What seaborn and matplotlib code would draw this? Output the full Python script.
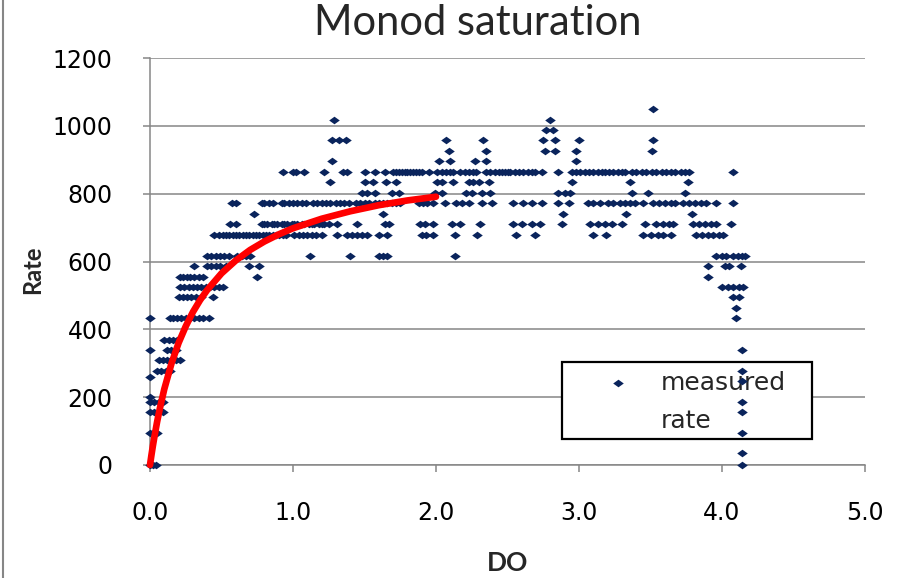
import matplotlib
matplotlib.use("Agg")
import matplotlib.pyplot as plt
from matplotlib.lines import Line2D
from matplotlib.patches import Rectangle
import seaborn as sns
import pandas as pd

# ---------------- data ----------------
# measured rate: DO values observed at each rate level
do_1049 = [3.52]
do_1018 = [1.29, 2.80]
do_988 = [2.77, 2.82]
do_957 = [1.27, 1.32, 1.37, 2.07, 2.33, 2.75, 2.83, 3.00, 3.52]
do_926 = [2.09, 2.35, 2.76, 2.83, 2.98, 3.51]
do_895 = [1.27, 2.02, 2.10, 2.27, 2.35, 2.98]
do_864 = [0.93, 1.00, 1.02, 1.08, 1.22, 1.35, 1.38, 1.50, 1.57, 1.64, 1.70, 1.72,
          1.74, 1.76, 1.78, 1.80, 1.82, 1.84, 1.86, 1.88, 1.90, 1.95, 2.01, 2.04,
          2.07, 2.10, 2.12, 2.17, 2.20, 2.23, 2.26, 2.28, 2.35, 2.38, 2.41, 2.44,
          2.46, 2.48, 2.50, 2.52, 2.55, 2.58, 2.61, 2.64, 2.67, 2.69, 2.74, 2.85,
          2.95, 2.98, 3.01, 3.04, 3.07, 3.10, 3.13, 3.16, 3.18, 3.21, 3.24, 3.27,
          3.30, 3.32, 3.37, 3.40, 3.44, 3.47, 3.51, 3.54, 3.58, 3.61, 3.64, 3.67,
          3.71, 3.74, 3.77, 4.08]
do_833 = [1.26, 1.50, 1.56, 1.65, 1.72, 2.01, 2.04, 2.12, 2.23, 2.26, 2.30, 2.37,
          2.95, 3.36, 3.76]
do_802 = [1.48, 1.52, 1.57, 1.69, 1.74, 1.99, 2.04, 2.21, 2.25, 2.32, 2.38, 2.85,
          2.90, 2.94, 3.37, 3.48, 3.74]
do_772 = [0.57, 0.60, 0.78, 0.80, 0.83, 0.86, 0.92, 0.94, 0.97, 1.00, 1.03, 1.06,
          1.09, 1.14, 1.17, 1.20, 1.23, 1.26, 1.30, 1.33, 1.36, 1.39, 1.44, 1.47,
          1.50, 1.53, 1.57, 1.60, 1.63, 1.66, 1.69, 1.72, 1.75, 1.88, 1.91, 1.94,
          1.98, 2.06, 2.14, 2.18, 2.23, 2.32, 2.39, 2.54, 2.61, 2.67, 2.74, 2.85,
          2.93, 3.06, 3.10, 3.15, 3.20, 3.24, 3.29, 3.32, 3.36, 3.39, 3.45, 3.52,
          3.56, 3.60, 3.64, 3.67, 3.73, 3.77, 3.81, 3.85, 3.89, 3.96, 4.08]
do_741 = [0.73, 1.63, 2.89, 3.33, 3.79]
do_710 = [0.56, 0.60, 0.78, 0.80, 0.82, 0.85, 0.87, 0.89, 0.92, 0.94, 0.96, 0.99,
          1.01, 1.03, 1.06, 1.08, 1.11, 1.13, 1.15, 1.18, 1.20, 1.22, 1.25, 1.31,
          1.45, 1.64, 1.67, 1.89, 1.92, 1.98, 2.11, 2.17, 2.31, 2.54, 2.60, 2.67,
          2.73, 2.88, 3.08, 3.13, 3.18, 3.23, 3.30, 3.46, 3.54, 3.59, 3.63, 3.66,
          3.80, 3.84, 3.88, 3.92, 3.96, 4.06]
do_679 = [0.45, 0.48, 0.51, 0.53, 0.55, 0.58, 0.60, 0.62, 0.65, 0.67, 0.69, 0.72,
          0.74, 0.76, 0.79, 0.81, 0.83, 0.86, 0.88, 0.90, 0.93, 0.95, 1.01, 1.04,
          1.07, 1.10, 1.13, 1.16, 1.20, 1.31, 1.38, 1.41, 1.45, 1.48, 1.52, 1.60,
          1.66, 1.90, 1.93, 1.98, 2.13, 2.29, 2.56, 2.69, 3.10, 3.19, 3.45, 3.50,
          3.55, 3.59, 3.64, 3.82, 3.86, 3.90, 3.94, 3.98, 4.01]
do_617 = [0.40, 0.43, 0.46, 0.49, 0.52, 0.55, 0.61, 0.64, 0.67, 0.70, 1.12, 1.40,
          1.60, 1.63, 1.66, 2.13, 3.96, 4.00, 4.03, 4.08, 4.11, 4.14, 4.16]
do_586 = [0.31, 0.40, 0.43, 0.46, 0.49, 0.53, 0.69, 0.76, 3.90, 4.02, 4.05, 4.13]
do_555 = [0.21, 0.23, 0.26, 0.28, 0.31, 0.34, 0.37, 0.75, 3.90]
do_525 = [0.21, 0.24, 0.27, 0.30, 0.33, 0.36, 0.39, 0.42, 0.45, 0.48, 0.51, 4.00,
          4.04, 4.08, 4.12, 4.15]
do_494 = [0.20, 0.23, 0.26, 0.29, 0.32, 0.36, 0.44, 4.08, 4.12]
do_463 = [4.10]
do_432 = [0.00, 0.14, 0.16, 0.19, 0.22, 0.25, 0.28, 0.31, 0.34, 0.37, 0.41, 4.10]
do_370 = [0.10, 0.13, 0.16, 0.19]
do_339 = [0.00, 0.12, 0.15, 0.18, 4.14]
do_309 = [0.06, 0.09, 0.12, 0.15, 0.18, 0.21]
do_278 = [0.05, 0.08, 0.11, 0.14, 4.14]
do_258 = [0.00]
do_247 = [4.14]
do_200 = [0.00]
do_185 = [0.00, 0.03, 0.06, 0.09, 4.14]
do_155 = [0.00, 0.03, 0.06, 0.09, 4.14]
do_93 = [0.00, 0.02, 0.05, 4.14]
do_34 = [4.14]
do_0 = [0.00, 0.02, 0.04, 4.14]

rate_levels = [1049, 1018, 988, 957, 926, 895, 864, 833, 802, 772, 741, 710, 679,
               617, 586, 555, 525, 494, 463, 432, 370, 339, 309, 278, 258, 247,
               200, 185, 155, 93, 34, 0]
do_by_level = [do_1049, do_1018, do_988, do_957, do_926, do_895, do_864, do_833,
               do_802, do_772, do_741, do_710, do_679, do_617, do_586, do_555,
               do_525, do_494, do_463, do_432, do_370, do_339, do_309, do_278,
               do_258, do_247, do_200, do_185, do_155, do_93, do_34, do_0]

# Monod curve (red line)
monod_do = [0.0, 0.01, 0.02, 0.03, 0.05, 0.07, 0.10, 0.15, 0.20, 0.25, 0.30, 0.35,
            0.40, 0.50, 0.60, 0.70, 0.80, 0.90, 1.00, 1.20, 1.40, 1.60, 1.80, 2.00]
monod_rate = [0, 29, 56, 81, 128, 169, 224, 299, 360, 409, 451, 486,
              516, 565, 603, 634, 659, 680, 698, 726, 748, 766, 780, 791]

x_ticks = [0, 1, 2, 3, 4, 5]
x_tick_labels = ["0.0", "1.0", "2.0", "3.0", "4.0", "5.0"]
y_ticks = [0, 200, 400, 600, 800, 1000, 1200]

# ---------------- build table ----------------
rows_do, rows_rate = [], []
for lvl, dos in zip(rate_levels, do_by_level):
    for d in dos:
        rows_do.append(d)
        rows_rate.append(lvl)
df = pd.DataFrame({"DO": rows_do, "rate": rows_rate})
curve = pd.DataFrame({"DO": monod_do, "rate": monod_rate})

# ---------------- style ----------------
sns.set_theme(style="white")
plt.rcParams["font.family"] = ["DejaVu Sans"]

W, H = 906, 578
fig = plt.figure(figsize=(W / 100, H / 100), dpi=100)
ax = fig.add_axes([150 / W, 1 - 465 / H, 715 / W, 407 / H])

navy = "#0A245C"
grey = "#868686"
diamond = [(-1, 0), (0, 0.72), (1, 0), (0, -0.72), (-1, 0)]

sns.scatterplot(data=df, x="DO", y="rate", ax=ax, color=navy, marker=diamond,
                s=58, linewidth=0, zorder=3, legend=False, clip_on=False)
sns.lineplot(data=curve, x="DO", y="rate", ax=ax, color="#FF0000", linewidth=4.8,
             sort=False, estimator=None, zorder=4, solid_capstyle="round")
for ln in ax.lines:
    ln.set_clip_on(False)

ax.set_xlim(0, 5)
ax.set_ylim(0, 1200)
ax.set_xticks(x_ticks)
ax.set_xticklabels(x_tick_labels)
ax.set_yticks(y_ticks)
ax.set_xlabel("")
ax.set_ylabel("")

ax.yaxis.grid(True, color=grey, linewidth=1.1)
ax.xaxis.grid(False)
ax.set_axisbelow(True)
for side in ["top", "right"]:
    ax.spines[side].set_visible(False)
for side in ["left", "bottom"]:
    ax.spines[side].set_color(grey)
    ax.spines[side].set_linewidth(1.1)

ax.tick_params(axis="both", which="major", direction="out", length=5, width=1.1,
               color=grey, labelsize=17, labelcolor="black",
               bottom=True, left=True)
ax.tick_params(axis="y", pad=22)
ax.tick_params(axis="x", pad=21)

# legend frame
ax.add_patch(Rectangle(((562 - 150) / 715, (465 - 439) / 407), 250 / 715, 77 / 407,
                       transform=ax.transAxes, facecolor="white", edgecolor="black",
                       linewidth=1.6, zorder=2.5, clip_on=False))
handles = [ax.collections[0], Line2D([], [], linestyle="none")]
leg = ax.legend(handles, ["measured", "rate"], loc="upper left",
                bbox_to_anchor=(0.6196, 0.232), frameon=False, borderpad=0,
                borderaxespad=0, handlelength=2.0, handletextpad=0.72,
                labelspacing=0.58, fontsize=18, scatterpoints=1)
leg.set_zorder(2.6)

# titles and labels
fig.text(478 / W, 1 - 23 / H, "Monod saturation", ha="center", va="center",
         fontsize=30, family=["Lato", "DejaVu Sans"])
fig.text(33 / W, 1 - 270 / H, "Rate", ha="center", va="center", rotation=90,
         fontsize=17, fontweight="bold", family=["Lato", "DejaVu Sans"])
fig.text(508 / W, 1 - 563 / H, "DO", ha="center", va="center",
         fontsize=19, fontweight="bold", family=["Lato", "DejaVu Sans"])

fig.add_artist(Line2D([2.5 / W, 2.5 / W], [0, 1], transform=fig.transFigure,
                      color=grey, linewidth=1.5))

fig.savefig("out.png", dpi=100)
